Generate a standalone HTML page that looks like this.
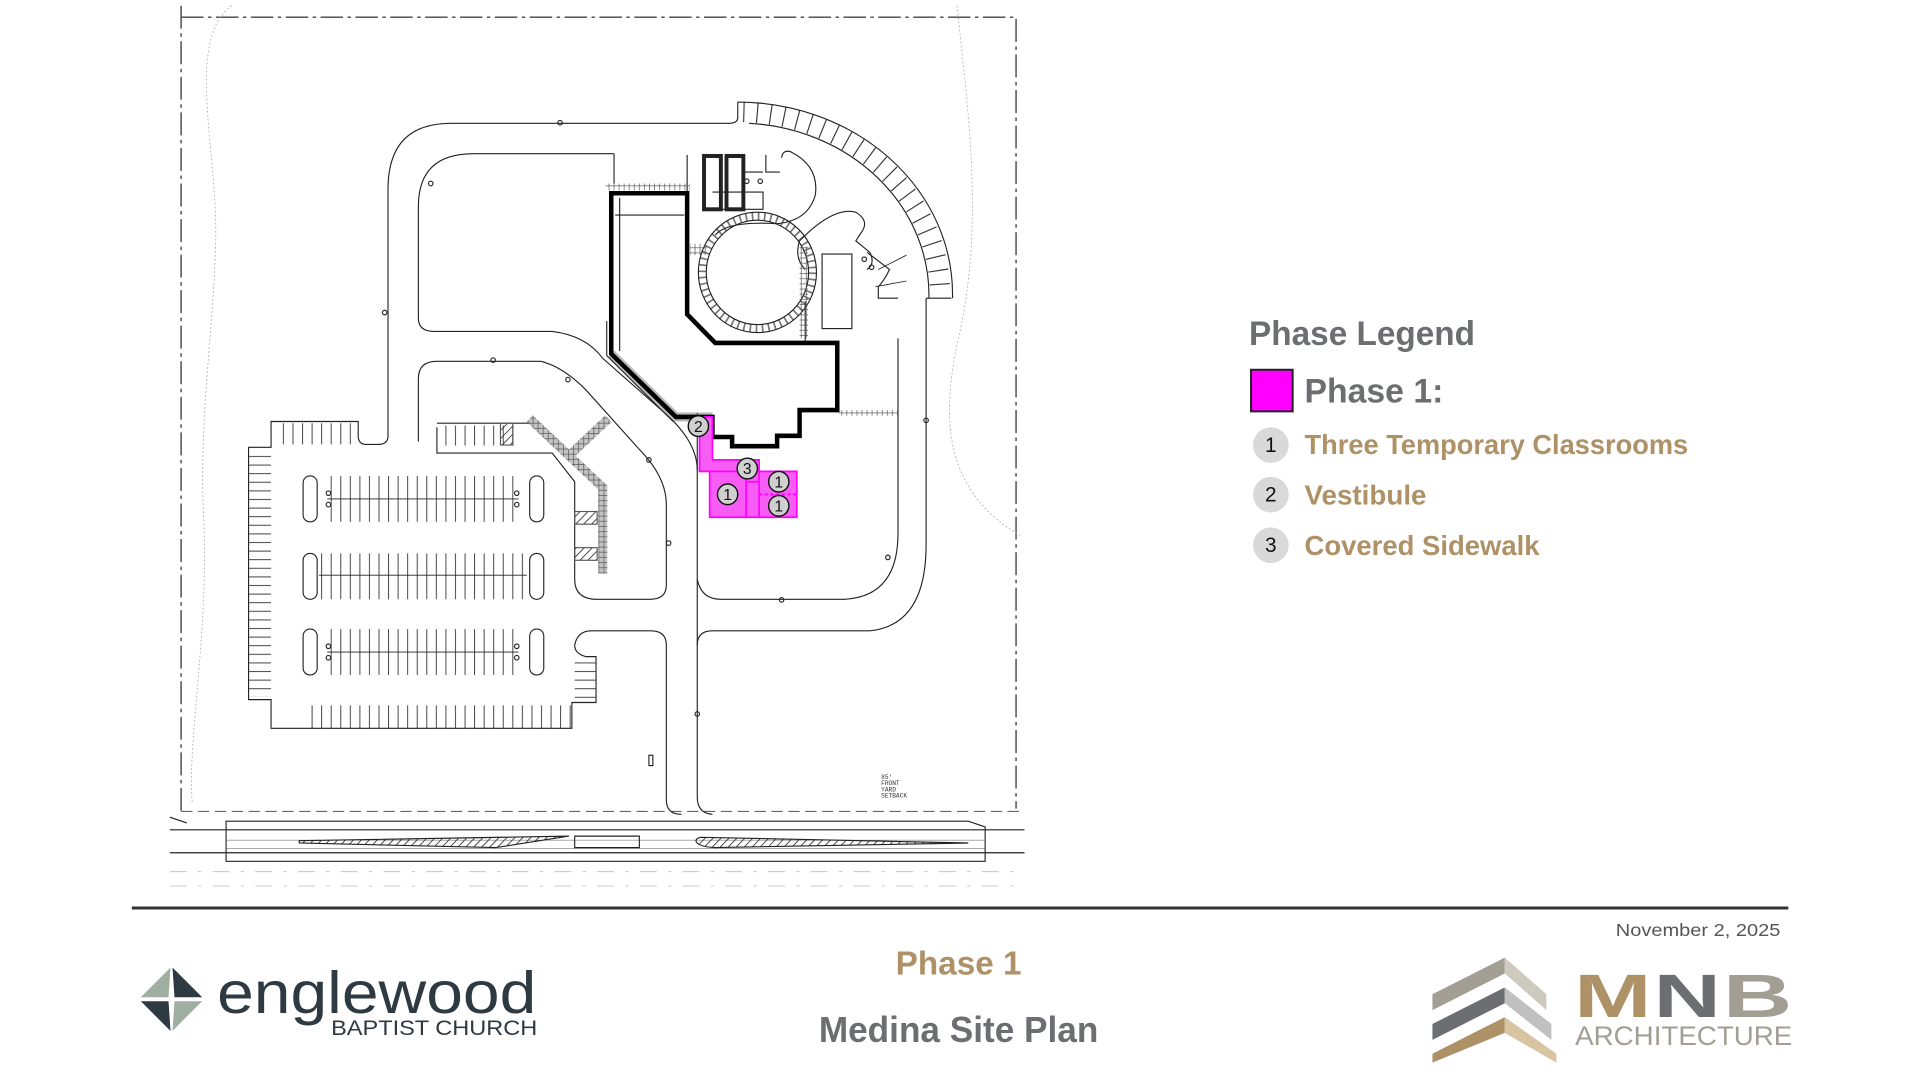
<!DOCTYPE html>
<html><head><meta charset="utf-8"><style>
html,body{margin:0;padding:0;background:#fff;width:1920px;height:1080px;overflow:hidden}
svg{display:block}
</style></head><body>
<svg width="1920" height="1080" viewBox="0 0 1920 1080" xmlns="http://www.w3.org/2000/svg">
<defs>
<pattern id="vl" width="17" height="10" patternUnits="userSpaceOnUse"><line x1="1" y1="0" x2="1" y2="10" stroke="#333" stroke-width="1.6"/></pattern>
<pattern id="hl" width="10" height="15" patternUnits="userSpaceOnUse"><line x1="0" y1="1" x2="10" y2="1" stroke="#333" stroke-width="1.6"/></pattern>
<pattern id="hatch" width="10" height="10" patternUnits="userSpaceOnUse" patternTransform="rotate(45)"><line x1="0" y1="0" x2="0" y2="10" stroke="#333" stroke-width="3"/></pattern>
<pattern id="grid" width="9" height="9" patternUnits="userSpaceOnUse"><rect width="9" height="9" fill="none" stroke="#555" stroke-width="1.2"/></pattern>
</defs>
<g transform="scale(0.9913)">
<!-- SITE PLAN in zoom coordinates -->
<g transform="translate(160,0) scale(0.5672,0.5785)" fill="none" stroke="#222" stroke-width="2">
 <path d="M40,10 V1415 M40,30 H1525 V1410" stroke="#444" stroke-width="2.5" stroke-dasharray="40 8 6 8"/>
 <path d="M40,1415 H1535" stroke="#666" stroke-width="2" stroke-dasharray="20 10"/>
 <path d="M130,10 C60,60 90,200 100,350 C110,500 70,700 80,900 C90,1100 50,1300 60,1400" stroke="#aaa" stroke-width="1.5" stroke-dasharray="3 4"/>
 <path d="M1420,10 C1440,200 1470,400 1420,600 C1400,700 1380,850 1535,935" stroke="#aaa" stroke-width="1.5" stroke-dasharray="3 4"/>
 <path d="M20,1447 H1540 M20,1487 H1540 M20,1425 L50,1435" stroke="#222"/>
 <path d="M120,1432 H1440 L1470,1442 V1502 H120 Z" stroke="#222"/>
 <path d="M120,1465 H1470 M120,1480 H1470" stroke="#555" stroke-width="1"/>
 <path d="M250,1466 L730,1458 L600,1478 L250,1470 Z" fill="url(#hatch)" stroke="#222"/>
 <path d="M740,1458 H855 V1478 H740 Z" stroke="#222"/>
 <path d="M965,1460 L1440,1470 L990,1478 C950,1476 950,1462 965,1460 Z" fill="url(#hatch)" stroke="#222"/>
 <path d="M20,1520 H1540 M20,1545 H1540" stroke="#bbb" stroke-width="1.5" stroke-dasharray="30 20 6 20"/>
 <path d="M903,1125 V1395 Q903,1420 930,1420"/>
 <path d="M958,720 V1390 Q958,1418 985,1420"/>
 <path d="M958,1125 Q958,1100 985,1100 H1265 Q1365,1090 1365,950 V535"/>
 <path d="M958,1010 Q965,1045 1000,1045 H1220 Q1315,1040 1315,930 V590 L1315,720"/>
 <path d="M1365,520 V535 M1365,520 H1410"/>
 <path d="M1030,178 V205 Q1030,215 1015,215 H520 Q408,215 408,330 V760 Q408,775 390,775 H370 Q355,775 355,760 V735 H200 V780 H160 V1220 H200 V1270 H735 V1225 H778 V1145 H760 Q740,1140 740,1125 Q745,1100 770,1100 H875 Q903,1100 903,1125"/>
 <path d="M810,268 V320 M810,268 H560 Q462,268 462,360 V555 Q462,578 490,578 H700 Q760,585 790,625 L900,720 Q958,770 958,820"/>
 <path d="M462,770 V660 Q462,630 495,630 H680 Q720,640 760,680 L870,800 Q903,840 903,880 V1020 Q903,1045 875,1045 H780 Q740,1045 740,1010 V840 L700,790 H495 V745"/>
 <path d="M495,738 H660"/>
 <rect x="220" y="738" width="135" height="37" fill="url(#vl)" stroke="none"/>
 <rect x="500" y="742" width="140" height="35" fill="url(#vl)" stroke="none"/>
 <rect x="160" y="785" width="40" height="430" fill="url(#hl)" stroke="none"/>
 <rect x="265" y="1230" width="470" height="40" fill="url(#vl)" stroke="none"/>
 <rect x="300" y="830" width="340" height="80" fill="url(#vl)" stroke="none"/>
 <rect x="285" y="965" width="370" height="80" fill="url(#vl)" stroke="none"/>
 <rect x="300" y="1097" width="340" height="80" fill="url(#vl)" stroke="none"/>
 <rect x="740" y="1145" width="38" height="80" fill="url(#hl)" stroke="none"/>
 <path d="M300,870 H640 M285,1003 H655 M300,1137 H640" stroke-width="1.5"/>
 <rect x="257" y="830" width="25" height="80" rx="12"/><rect x="660" y="830" width="25" height="80" rx="12"/>
 <rect x="257" y="965" width="25" height="80" rx="12"/><rect x="660" y="965" width="25" height="80" rx="12"/>
 <rect x="257" y="1097" width="25" height="80" rx="12"/><rect x="660" y="1097" width="25" height="80" rx="12"/>
 <rect x="608" y="738" width="22" height="38" fill="url(#hatch)" stroke="#555"/>
 <rect x="740" y="892" width="40" height="22" fill="url(#hatch)" stroke="#555"/>
 <rect x="740" y="955" width="40" height="22" fill="url(#hatch)" stroke="#555"/>
 <path d="M660,730 L790,850 V1000 M735,790 L800,730" stroke="#555" stroke-width="16" opacity="0.35"/>
 <path d="M660,730 L790,850 V1000 M735,790 L800,730" stroke="url(#grid)" stroke-width="16"/>
 <rect x="872" y="1317" width="7" height="18"/>
 <path d="M1040,195 A360,320 0 0 1 1390,515" stroke="#333" stroke-width="36" stroke-dasharray="2 22"/>
 <path d="M1030,178 A382,335 0 0 1 1412,515 V520"/>
 <path d="M1050,215 A340,300 0 0 1 1370,520"/>
 <path d="M1260,440 L1300,470 Q1290,490 1280,500 V520 H1315" />
 <path d="M1280,470 L1330,445 M1275,500 L1330,490" stroke-width="1.5"/>
 <circle cx="1065" cy="475" r="98" stroke="#777" stroke-width="14" stroke-dasharray="3 8"/>
 <circle cx="1065" cy="475" r="105"/><circle cx="1065" cy="475" r="91"/>
 <path d="M1108,275 Q1110,260 1125,265 Q1175,290 1168,340 Q1155,385 1100,390 Q1010,385 990,410"/>
 <path d="M1140,420 Q1200,360 1240,370 Q1265,385 1250,405 L1240,420 L1265,440 Q1275,460 1260,470"/>
 <path d="M1140,420 Q1130,450 1150,470 M1150,525 V595"/>
 <rect x="1180" y="443" width="53" height="130"/>
 <rect x="970" y="272" width="30" height="93" stroke-width="7"/>
 <rect x="1010" y="272" width="30" height="93" stroke-width="7"/>
 <path d="M940,270 V340 M985,335 H1075 V365 H985 M1040,300 H1075 M1080,270 V300 H1105"/>
 <rect x="795" y="320" width="150" height="12" fill="url(#grid)" stroke="none"/>
 <rect x="1210" y="715" width="105" height="10" fill="url(#grid)" stroke="none"/>
 <rect x="1140" y="430" width="15" height="160" fill="url(#grid)" stroke="none"/>
 <rect x="945" y="425" width="30" height="20" fill="url(#grid)" stroke="none"/>
 <path d="M805,617 L920,727 H985" stroke="#777" stroke-width="16" opacity="0.5"/>
 <path d="M797,560 V620 L915,735" stroke="#222" stroke-width="2"/>
 <path d="M805,337 H940 V548 L990,598 H1207 V715 H1140 V760 H1100 V778 H1020 V762 H985 V727 H920 L805,617 Z" stroke="#000" stroke-width="8" stroke-linejoin="miter"/>
 <path d="M820,345 V612 M812,375 H935" stroke-width="2"/>
 <path d="M962,727 H985 V802 H1068 V822 H1135 V902 H980 V822 H962 Z" fill="#f75cf5" stroke="#ff00ff" stroke-width="3"/>
 <path d="M980,822 H1045 V902 M1045,840 H1068 V902 M1068,822 V902" stroke="#ff00ff" stroke-width="3"/>
 <path d="M1068,862 H1135" stroke="#ff00ff" stroke-width="3" stroke-dasharray="6 4"/>
 <g fill="#d0d0d0" stroke="#111" stroke-width="2.5">
  <circle cx="960" cy="743" r="18"/><circle cx="1047" cy="817" r="18"/>
  <circle cx="1012" cy="862" r="18"/><circle cx="1103" cy="840" r="18"/><circle cx="1103" cy="882" r="18"/>
 </g>
 <g font-family="Liberation Sans, sans-serif" font-size="28" fill="#111" stroke="none" text-anchor="middle">
  <text x="960" y="753">2</text><text x="1047" y="827">3</text>
  <text x="1012" y="872">1</text><text x="1103" y="850">1</text><text x="1103" y="892">1</text>
 </g>
 <g stroke-width="2">
  <circle cx="714" cy="214" r="4"/><circle cx="484" cy="320" r="4"/><circle cx="402" cy="545" r="4"/>
  <circle cx="595" cy="628" r="4"/><circle cx="728" cy="662" r="4"/><circle cx="872" cy="802" r="4"/>
  <circle cx="907" cy="947" r="4"/><circle cx="958" cy="1245" r="4"/><circle cx="1108" cy="1046" r="4"/>
  <circle cx="1297" cy="972" r="4"/><circle cx="1365" cy="733" r="4"/><circle cx="1046" cy="316" r="4"/><circle cx="1070" cy="316" r="4"/>
  <circle cx="302" cy="860" r="4"/><circle cx="302" cy="880" r="4"/><circle cx="637" cy="860" r="4"/><circle cx="637" cy="880" r="4"/>
  <circle cx="302" cy="1127" r="4"/><circle cx="302" cy="1147" r="4"/><circle cx="637" cy="1127" r="4"/><circle cx="637" cy="1147" r="4"/>
  <circle cx="1255" cy="452" r="4"/><circle cx="1268" cy="466" r="4"/>
 </g>
 <g font-family="Liberation Mono, monospace" font-size="11" fill="#333" stroke="none">
  <text x="1285" y="1358">85'</text><text x="1285" y="1369">FRONT</text><text x="1285" y="1380">YARD</text><text x="1285" y="1391">SETBACK</text>
 </g>
</g>

<!-- Legend -->
<g font-family="Liberation Sans, sans-serif" font-weight="bold">
 <text x="1260" y="348" font-size="35" fill="#6d6e71" textLength="228" lengthAdjust="spacingAndGlyphs">Phase Legend</text>
 <rect x="1262" y="373" width="42" height="42" fill="#ff00ff" stroke="#222" stroke-width="2"/>
 <text x="1316" y="406" font-size="35" fill="#6d6e71" textLength="140" lengthAdjust="spacingAndGlyphs">Phase 1:</text>
 <circle cx="1282" cy="449" r="18" fill="#d9d9d9"/>
 <circle cx="1282" cy="499" r="18" fill="#d9d9d9"/>
 <circle cx="1282" cy="550" r="18" fill="#d9d9d9"/>
 <g font-weight="normal" font-size="21" fill="#111" text-anchor="middle">
  <text x="1282" y="456">1</text><text x="1282" y="506">2</text><text x="1282" y="557">3</text>
 </g>
 <g font-size="28" fill="#ae9166">
  <text x="1316" y="458" textLength="387" lengthAdjust="spacingAndGlyphs">Three Temporary Classrooms</text>
  <text x="1316" y="509" textLength="123" lengthAdjust="spacingAndGlyphs">Vestibule</text>
  <text x="1316" y="560" textLength="237" lengthAdjust="spacingAndGlyphs">Covered Sidewalk</text>
 </g>
</g>

<line x1="133" y1="916" x2="1804" y2="916" stroke="#333" stroke-width="3"/>
<text x="1796" y="944" font-family="Liberation Sans, sans-serif" font-size="18" fill="#555" text-anchor="end" textLength="166" lengthAdjust="spacingAndGlyphs">November 2, 2025</text>
<text x="967" y="983" font-family="Liberation Sans, sans-serif" font-weight="bold" font-size="34" fill="#ae9166" text-anchor="middle" textLength="127" lengthAdjust="spacingAndGlyphs">Phase 1</text>
<text x="967" y="1051" font-family="Liberation Sans, sans-serif" font-weight="bold" font-size="36" fill="#6d6e71" text-anchor="middle" textLength="282" lengthAdjust="spacingAndGlyphs">Medina Site Plan</text>

<!-- englewood logo -->
<g>
 <path d="M172,976 L142,1006 L170,1006 Z" fill="#9fb0a3"/>
 <path d="M174,976 L204,1006 L176,1006 Z" fill="#2d3a42"/>
 <path d="M142,1010 L170,1010 L172,1040 Z" fill="#2d3a42"/>
 <path d="M204,1010 L176,1010 L174,1040 Z" fill="#9fb0a3"/>
 <text x="219" y="1022" font-family="Liberation Sans, sans-serif" font-size="60" fill="#2d3a42" textLength="322" lengthAdjust="spacingAndGlyphs">englewood</text>
 <text x="334" y="1044" font-family="Liberation Sans, sans-serif" font-size="21" fill="#2d3a42" textLength="208" lengthAdjust="spacingAndGlyphs">BAPTIST CHURCH</text>
</g>

<!-- MNB logo -->
<g>
 <path d="M1445,1003 L1518,966 L1518,982 L1445,1019 Z" fill="#a39e93"/>
 <path d="M1518,966 L1560,1003 L1560,1019 L1518,982 Z" fill="#cfcac0"/>
 <path d="M1445,1033 L1518,996 L1518,1012 L1445,1049 Z" fill="#6d6e71"/>
 <path d="M1518,996 L1565,1033 L1565,1049 L1518,1012 Z" fill="#c0c0c0"/>
 <path d="M1445,1063 L1518,1026 L1518,1042 L1445,1072 Z" fill="#ae9166"/>
 <path d="M1518,1026 L1570,1063 L1570,1072 L1518,1042 Z" fill="#d7c4a3"/>
 <g font-family="Liberation Sans, sans-serif" font-weight="bold" font-size="62">
  <text x="1588" y="1026" fill="#ae9166" textLength="78" lengthAdjust="spacingAndGlyphs">M</text>
  <text x="1668" y="1026" fill="#6d6e71" textLength="68" lengthAdjust="spacingAndGlyphs">N</text>
  <text x="1738" y="1026" fill="#a39e93" textLength="70" lengthAdjust="spacingAndGlyphs">B</text>
 </g>
 <text x="1589" y="1054" font-family="Liberation Sans, sans-serif" font-size="27" fill="#a39e93" textLength="219" lengthAdjust="spacingAndGlyphs">ARCHITECTURE</text>
</g>
</g>
</svg>
</body></html>
